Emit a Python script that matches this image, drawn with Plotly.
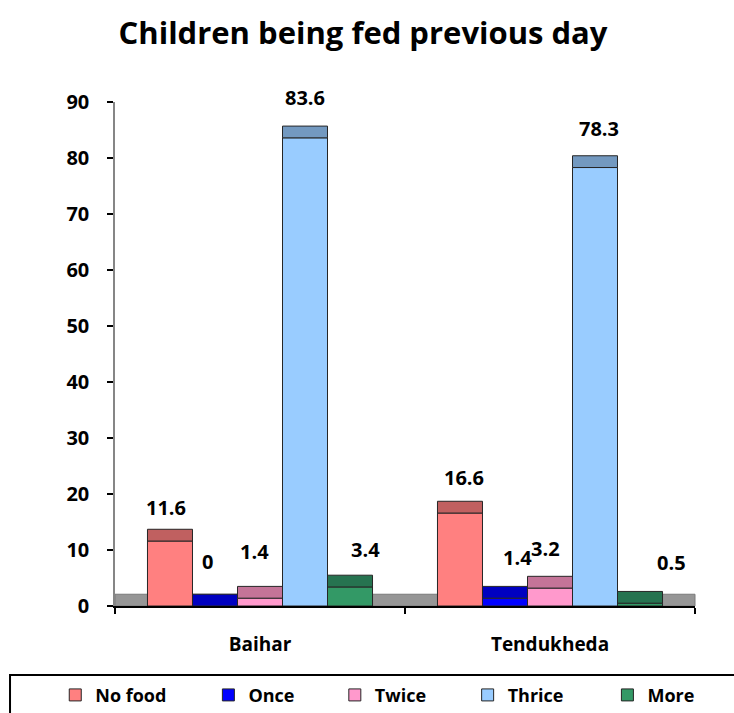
import plotly.graph_objects as go

# Survey data: share of children by number of feeds on the previous day
districts = ["Baihar", "Tendukheda"]
series_names = ["No food", "Once", "Twice", "Thrice", "More"]
no_food = [11.6, 16.6]
once = [0, 1.4]
twice = [1.4, 3.2]
thrice = [83.6, 78.3]
more = [3.4, 0.5]
y_ticks = [0, 10, 20, 30, 40, 50, 60, 70, 80, 90]

series_values = [no_food, once, twice, thrice, more]

# Styling for the pseudo-3D columns: front face colour and darker top face
face_colors = ["#FF8080", "#0000FF", "#FF99CC", "#99CCFF", "#339966"]
top_colors = ["#C06060", "#0000C0", "#C47498", "#7399C0", "#267350"]
depth = 2.1          # visual depth of the column top / floor, in axis units
bargap = 0.224

# Label nudges (px) per series, per district: (dx, dy above the column top)
label_nudge = [
    [(-4, 22), (4, 24)],
    [(-7, 33), (13, 29)],
    [(-6, 35), (-5, 28)],
    [(0, 29), (4, 27)],
    [(15, 26), (31, 29)],
]

# Left edge (paper x) of each legend entry along the bottom strip
legend_x = [-0.103, 0.161, 0.379, 0.608, 0.849]

FONT = "Open Sans"

fig = go.Figure()

for i, (name, vals) in enumerate(zip(series_names, series_values)):
    legend_id = "legend" if i == 0 else f"legend{i + 1}"
    fig.add_trace(go.Bar(
        name=name, x=districts, y=vals, offsetgroup=str(i), legend=legend_id,
        marker=dict(color=face_colors[i], line=dict(color="#262626", width=1)),
        hoverinfo="skip",
    ))
    fig.add_trace(go.Bar(
        name=name + " top", x=districts, y=[depth] * len(vals), base=vals,
        offsetgroup=str(i), showlegend=False,
        marker=dict(color=top_colors[i], line=dict(color="#262626", width=1)),
        hoverinfo="skip",
    ))

# Grey floor under the columns
fig.add_shape(type="rect", xref="x domain", yref="y", x0=0, x1=1, y0=0, y1=depth,
              fillcolor="#969696", line=dict(color="#7a7a7a", width=1), layer="below")

# Value labels above each column
n = len(series_names)
slot = (1 - bargap) / n
for i, vals in enumerate(series_values):
    for j, v in enumerate(vals):
        dx, dy = label_nudge[i][j]
        fig.add_annotation(
            x=j + (i - (n - 1) / 2) * slot, y=v + depth, xref="x", yref="y",
            text=f"{v:g}", showarrow=False, xshift=dx, yshift=dy,
            yanchor="middle", xanchor="center",
            font=dict(family=FONT, size=20, color="black", weight="bold"),
        )

# Frame around the legend
fig.add_shape(type="rect", xref="paper", yref="paper",
              x0=-0.181, x1=1.1, y0=-0.137, y1=-0.23,
              line=dict(color="black", width=2), fillcolor="rgba(0,0,0,0)")

legend_style = dict(orientation="h", xanchor="left", y=-0.177, yanchor="middle",
                    font=dict(family=FONT, size=18, color="black", weight="bold"),
                    bgcolor="rgba(0,0,0,0)", borderwidth=0, itemwidth=30)
legends = {}
for i, lx in enumerate(legend_x):
    key = "legend" if i == 0 else f"legend{i + 1}"
    legends[key] = dict(legend_style, x=lx)

fig.update_layout(
    width=734, height=713,
    margin=dict(l=115, r=39, t=102, b=107, autoexpand=False),
    paper_bgcolor="white", plot_bgcolor="white",
    barmode="group", bargap=bargap, bargroupgap=0,
    font=dict(family=FONT, size=16, color="black", weight="bold"),
    title=dict(text="Children being fed previous day", x=0.4946, xref="container",
               y=1 - 33 / 713, yref="container", xanchor="center", yanchor="middle",
               font=dict(family=FONT, size=31, color="black", weight="bold")),
    showlegend=True,
    xaxis=dict(type="category", showline=True, linecolor="black", linewidth=1.5,
               ticks="outside", tickson="boundaries", ticklen=6, tickcolor="black",
               tickwidth=1.5, showgrid=False, ticklabelstandoff=20,
               tickfont=dict(family=FONT, size=19, color="black", weight="bold")),
    yaxis=dict(range=[0, 90], tickvals=y_ticks, showline=True, linecolor="#868686",
               linewidth=1.5, ticks="outside", ticklen=6, tickcolor="black", tickwidth=1.5,
               showgrid=False, zeroline=False, ticklabelstandoff=14,
               tickfont=dict(family=FONT, size=20, color="black", weight="bold")),
    **legends,
)

fig.write_html("out.html")
